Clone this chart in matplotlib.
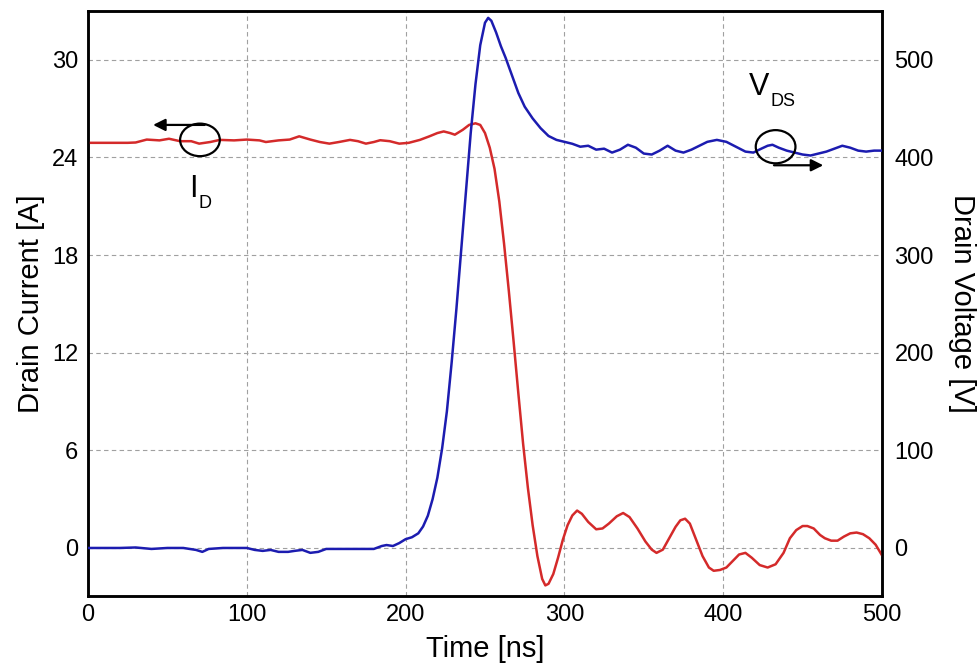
import numpy as np
import matplotlib.pyplot as plt
from matplotlib.patches import Ellipse

plt.rcParams['font.family'] = ['Liberation Sans', 'DejaVu Sans']

# drain current I_D [A]
t_id = [0, 25, 30, 37, 45, 51, 58, 65, 70, 77, 83, 92, 100, 108, 112, 120, 127, 133,
        140, 146, 152, 158, 165, 170, 175, 180, 184, 190, 196, 202, 209, 215, 220, 224,
        228, 231, 236, 240, 244, 247, 250, 253, 256, 259, 262, 265, 268, 271, 274, 277,
        280, 283, 286, 288, 290, 293, 296, 299, 302, 305, 308, 311, 315, 320, 324, 328,
        333, 337, 341, 346, 351, 355, 358, 362, 366, 370, 373, 376, 379, 383, 387, 391,
        394, 398, 402, 406, 410, 414, 418, 423, 428, 433, 438, 442, 446, 450, 453, 457,
        461, 464, 468, 472, 476, 480, 484, 488, 492, 496, 500]
i_d = [24.9, 24.9, 24.92, 25.1, 25.05, 25.15, 25.0, 25.0, 24.85, 24.95, 25.08, 25.05,
       25.1, 25.05, 24.95, 25.05, 25.1, 25.3, 25.1, 24.95, 24.85, 24.95, 25.08, 25.0,
       24.85, 24.95, 25.06, 25.0, 24.85, 24.9, 25.08, 25.3, 25.5, 25.6, 25.5, 25.4,
       25.7, 26.0, 26.1, 26.0, 25.5, 24.6, 23.3, 21.3, 18.7, 15.8, 12.7, 9.5, 6.4, 3.7,
       1.4, -0.5, -1.9, -2.3, -2.2, -1.6, -0.6, 0.5, 1.4, 2.0, 2.3, 2.1, 1.6, 1.15, 1.2,
       1.5, 1.95, 2.15, 1.9, 1.2, 0.4, -0.1, -0.3, -0.1, 0.6, 1.3, 1.7, 1.8, 1.5, 0.5,
       -0.5, -1.2, -1.4, -1.35, -1.2, -0.8, -0.4, -0.3, -0.6, -1.05, -1.2, -1.0, -0.3,
       0.6, 1.1, 1.35, 1.35, 1.2, 0.8, 0.6, 0.45, 0.45, 0.7, 0.9, 0.95, 0.85, 0.6, 0.2,
       -0.45]

# drain-source voltage V_DS [V]
t_vds = [0, 20, 30, 40, 50, 60, 68, 72, 76, 85, 100, 105, 110, 115, 120, 126, 130, 135,
         140, 145, 150, 160, 170, 180, 185, 188, 192, 196, 200, 204, 208, 211, 214, 217,
         220, 223, 226, 229, 232, 235, 238, 241, 244, 247, 250, 252, 254, 257, 260, 263,
         267, 271, 275, 280, 285, 290, 295, 300, 305, 310, 315, 320, 325, 330, 335, 340,
         345, 350, 355, 360, 365, 370, 375, 380, 385, 390, 396, 402, 408, 414, 419, 424,
         428, 431, 435, 440, 445, 450, 455, 460, 465, 470, 475, 480, 485, 490, 495, 500]
v_ds = [0, 0, 0.5, -1, 0, 0, -2, -4, -1, 0, 0, -2, -3, -2, -4, -4, -3, -2, -5, -4, -1,
        -1, -1, -1, 2, 3, 2, 5, 9, 11, 15, 22, 33, 50, 72, 102, 140, 190, 245, 305, 365,
        425, 475, 515, 538, 543, 540, 528, 514, 502, 484, 466, 452, 440, 430, 422, 418,
        416, 414, 411, 412, 408, 409, 405, 408, 413, 410, 404, 403, 407, 412, 407, 405,
        408, 412, 416, 418, 416, 411, 406, 405, 409, 412, 413, 410, 407, 405, 403, 402,
        404, 406, 409, 412, 410, 407, 406, 407, 407]

fig = plt.figure(figsize=(9.8, 6.72), dpi=100)
ax = fig.add_axes([0.0898, 0.1131, 0.8102, 0.8705])
ax2 = ax.twinx()

ax.plot(t_id, i_d, color='#d42a2a', linewidth=1.8, zorder=3)
ax2.plot(t_vds, v_ds, color='#1c1cb0', linewidth=1.8, zorder=3)

ax.set_xlim(0, 500)
ax.set_ylim(-2.95, 33.0)
ax2.set_ylim(-49.2, 550)
ax.set_xticks([0, 100, 200, 300, 400, 500])
ax.set_yticks([0, 6, 12, 18, 24, 30])
ax2.set_yticks([0, 100, 200, 300, 400, 500])

ax.grid(True, linestyle=(0, (4, 3)), color='#a0a0a0', linewidth=0.8)
ax.set_axisbelow(True)

for a in (ax, ax2):
    for s in a.spines.values():
        s.set_linewidth(1.8)
        s.set_color('black')
ax.tick_params(axis='both', length=0, labelsize=17)
ax.tick_params(axis='y', pad=7)
ax.tick_params(axis='x', pad=6)
ax2.tick_params(axis='y', length=0, labelsize=17, pad=9)

ax.set_xlabel('Time [ns]', fontsize=21, labelpad=6)
ax.set_ylabel('Drain Current [A]', fontsize=21, labelpad=5)
ax2.set_ylabel('Drain Voltage [V]', fontsize=21, rotation=270, labelpad=30)

# I_D marker: circle with arrow to the left axis
ax.add_patch(Ellipse((70.5, 25.08), 25, 2.0, fill=False, edgecolor='black',
                     linewidth=1.6, zorder=4))
ax.annotate('', xy=(41, 26.0), xytext=(73.5, 26.0),
            arrowprops=dict(arrowstyle='-|>', color='black', lw=1.6,
                            mutation_scale=18, shrinkA=0, shrinkB=0), zorder=4)
ax.text(63.5, 21.58, 'I', fontsize=22, ha='left', va='baseline')
ax.text(69.5, 20.9, 'D', fontsize=13, ha='left', va='baseline')

# V_DS marker: circle with arrow to the right axis
ax2.add_patch(Ellipse((433, 411), 25, 34, fill=False, edgecolor='black',
                      linewidth=1.6, zorder=4))
ax2.annotate('', xy=(463, 392), xytext=(432, 392),
             arrowprops=dict(arrowstyle='-|>', color='black', lw=1.6,
                             mutation_scale=18, shrinkA=0, shrinkB=0), zorder=4)
ax2.text(416, 464, 'V', fontsize=22, ha='left', va='baseline')
ax2.text(429.5, 453, 'DS', fontsize=13, ha='left', va='baseline')

fig.savefig('out.png', dpi=100)
